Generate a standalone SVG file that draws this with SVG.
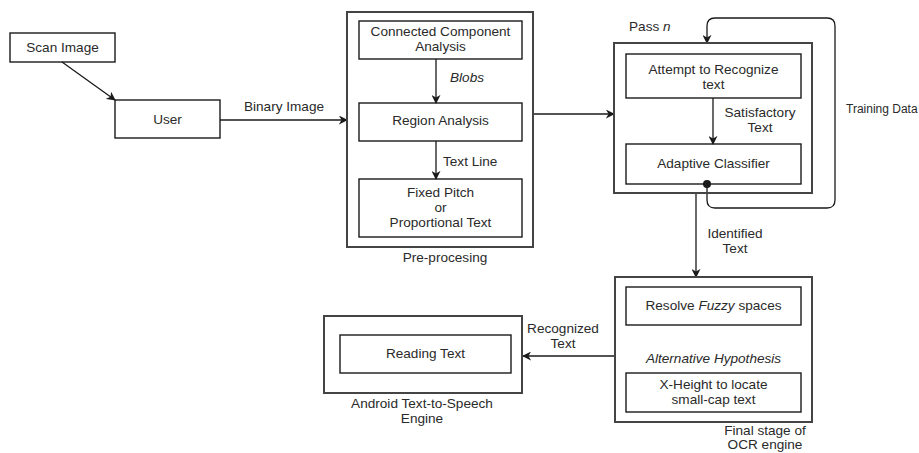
<svg xmlns="http://www.w3.org/2000/svg" width="919" height="453" viewBox="0 0 919 453">
<defs>
<style>
text{font-family:"Liberation Sans",Arial,sans-serif;font-size:13.6px;fill:#2a2a2a}
.m{text-anchor:middle}
.i{font-style:italic}
.outer{fill:none;stroke:#444;stroke-width:2}
.inner{fill:none;stroke:#1a1a1a;stroke-width:1.4}
.c{fill:none;stroke:#1a1a1a;stroke-width:1.3}
</style>
<marker id="a" viewBox="0 0 10 10" refX="9" refY="5" markerWidth="9" markerHeight="9" markerUnits="userSpaceOnUse" orient="auto">
<path d="M0,0 L10,5 L0,10 L3,5 Z" fill="#1a1a1a"/>
</marker>
</defs>
<rect width="919" height="453" fill="#fff"/>

<g id="connectors">
<line class="c" x1="62" y1="62" x2="115" y2="100" marker-end="url(#a)"/>
<line class="c" x1="220" y1="120" x2="347" y2="120" marker-end="url(#a)"/>
<line class="c" x1="436" y1="59" x2="436" y2="103" marker-end="url(#a)"/>
<line class="c" x1="436" y1="141" x2="436" y2="179" marker-end="url(#a)"/>
<line class="c" x1="533" y1="114" x2="614" y2="114" marker-end="url(#a)"/>
<line class="c" x1="713" y1="98" x2="713" y2="144" marker-end="url(#a)"/>
<path class="c" d="M707,184 V200 Q707,208 715,208 H827 Q835,208 835,200 V26 Q835,18 827,18 H715 Q707,18 707,26 V43" marker-end="url(#a)"/>
<circle cx="707" cy="184" r="4" fill="#1a1a1a"/>
<line class="c" x1="696" y1="193" x2="696" y2="277" marker-end="url(#a)"/>
<line class="c" x1="615" y1="356" x2="523" y2="356" marker-end="url(#a)"/>
<text x="284" y="111" class="m">Binary Image</text>
<text x="450" y="82" class="i">Blobs</text>
<text x="443" y="166">Text Line</text>
<text x="760" y="117" class="m">Satisfactory</text>
<text x="760" y="132" class="m">Text</text>
<text x="846" y="113" style="font-size:12px">Training Data</text>
<text x="735" y="238" class="m">Identified</text>
<text x="735" y="253" class="m">Text</text>
<text x="563" y="333" class="m">Recognized</text>
<text x="563" y="348" class="m">Text</text>
</g>

<g id="scan-image">
<rect class="inner" x="10" y="33" width="105" height="29"/>
<text x="62.5" y="52" class="m">Scan Image</text>
</g>

<g id="user">
<rect class="inner" x="115" y="100" width="105" height="38"/>
<text x="167.5" y="124" class="m">User</text>
</g>

<g id="pre-processing">
<rect class="outer" x="347" y="12" width="186" height="235"/>
<text x="445" y="262" class="m">Pre-procesing</text>
</g>
<g id="cca">
<rect class="inner" x="359" y="21" width="163" height="38"/>
<text x="440.5" y="36" class="m">Connected Component</text>
<text x="440.5" y="51" class="m">Analysis</text>
</g>
<g id="region-analysis">
<rect class="inner" x="359" y="103" width="163" height="38"/>
<text x="440.5" y="125" class="m">Region Analysis</text>
</g>
<g id="fixed-pitch">
<rect class="inner" x="359" y="179" width="163" height="58"/>
<text x="440.5" y="197" class="m">Fixed Pitch</text>
<text x="440.5" y="212" class="m">or</text>
<text x="440.5" y="227" class="m">Proportional Text</text>
</g>

<g id="pass-n">
<rect class="outer" x="614" y="43" width="198" height="150"/>
<text x="629" y="31">Pass <tspan class="i">n</tspan></text>
</g>
<g id="attempt">
<rect class="inner" x="626" y="54" width="175" height="44"/>
<text x="713.5" y="74" class="m">Attempt to Recognize</text>
<text x="713.5" y="89" class="m">text</text>
</g>
<g id="adaptive">
<rect class="inner" x="626" y="144" width="175" height="40"/>
<text x="713.5" y="168" class="m">Adaptive Classifier</text>
</g>

<g id="final-stage">
<rect class="outer" x="615" y="277" width="197" height="145"/>
<text x="713.5" y="363" class="m i">Alternative Hypothesis</text>
<text x="765" y="435" class="m">Final stage of</text>
<text x="765" y="449" class="m">OCR engine</text>
</g>
<g id="resolve">
<rect class="inner" x="626" y="287" width="175" height="38"/>
<text x="713.5" y="310" class="m">Resolve <tspan class="i">Fuzzy</tspan> spaces</text>
</g>
<g id="x-height">
<rect class="inner" x="626" y="373" width="175" height="39"/>
<text x="713.5" y="389" class="m">X-Height to locate</text>
<text x="713.5" y="404" class="m">small-cap text</text>
</g>

<g id="android">
<rect class="outer" x="324" y="316" width="198" height="77"/>
<text x="422" y="408" class="m">Android Text-to-Speech</text>
<text x="422" y="423" class="m">Engine</text>
</g>
<g id="reading-text">
<rect class="inner" x="340" y="335" width="171" height="38"/>
<text x="425.5" y="358" class="m">Reading Text</text>
</g>
</svg>
